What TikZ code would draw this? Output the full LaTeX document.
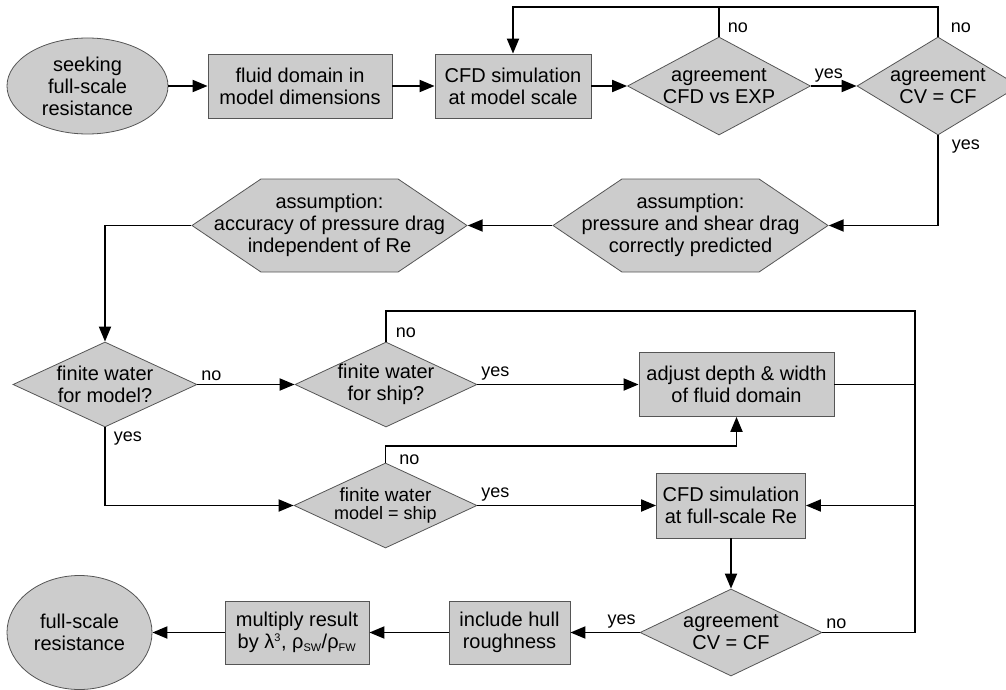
\documentclass[tikz,border=0pt]{standalone}
\usepackage{fontspec}
\setmainfont{Liberation Sans}
\usetikzlibrary{shapes.geometric,shapes.symbols,arrows.meta}
\definecolor{boxfill}{HTML}{CCCCCC}
\definecolor{boxline}{HTML}{555555}
\newcommand{\smallidx}[1]{{\fontsize{11}{11}\selectfont #1}}

\begin{document}
\begin{tikzpicture}[x=1pt, y=-1pt,
  base/.style={draw=boxline, fill=boxfill, line width=0.8pt, inner sep=0pt},
  txt/.style={align=center, font=\fontsize{20}{22}\selectfont, inner sep=0pt},
  box/.style={base, rectangle, txt},
  term/.style={base, ellipse},
  dec/.style={base, diamond},
  hexa/.style={base, signal, signal to=east and west, signal pointer angle=68},
  lbl/.style={font=\fontsize{18}{20}\selectfont, inner sep=3pt},
  flow/.style={-{Triangle[length=15pt,width=12pt]}, line width=1.9pt},
  link/.style={line width=1.9pt}]
\useasboundingbox (0,0) rectangle (1006,690);

% Nodes - top row
\node[term, minimum width=161pt, minimum height=96pt, label={[txt]center:{seeking\\full-scale\\resistance}}] (seek) at (87.5,86) {};
\node[box, minimum width=184pt, minimum height=64pt] (fluid) at (300,86) {fluid domain in\\model dimensions};
\node[box, minimum width=156pt, minimum height=64pt] (cfdm) at (513,86) {CFD simulation\\at model scale};
\node[dec, minimum width=183pt, minimum height=98pt, label={[txt]center:{agreement\\CFD vs EXP}}] (agr1) at (719,86) {};
\node[dec, minimum width=162pt, minimum height=98pt, label={[txt]center:{agreement\\CV = CF}}] (agr2) at (938,86) {};

% Nodes - assumptions
\node[hexa, minimum width=275pt, minimum height=93pt, label={[txt]center:{assumption:\\pressure and shear drag\\correctly predicted}}] (ass1) at (690.5,225.5) {};
\node[hexa, minimum width=275pt, minimum height=93pt, label={[txt]center:{assumption:\\accuracy of pressure drag\\independent of Re}}] (ass2) at (329.5,225.5) {};

% Nodes - finite water
\node[dec, minimum width=184pt, minimum height=85pt, label={[txt]center:{finite water\\for model?}}] (fw1) at (105,384.5) {};
\node[dec, minimum width=182pt, minimum height=85pt, label={[txt]center:{finite water\\for ship?}}] (fw2) at (386,384.5) {};
\node[box, minimum width=195pt, minimum height=64pt] (adjust) at (736.5,384.5) {adjust depth \& width\\of fluid domain};
\node[dec, minimum width=183pt, minimum height=85pt, label={[txt, font=\fontsize{19}{18}\selectfont]center:{finite water\\{\fontsize{18}{18}\selectfont model = ship}}}] (fw3) at (385.5,505.5) {};
\node[box, minimum width=149pt, minimum height=65pt] (cfdf) at (731,505.5) {CFD simulation\\at full-scale Re};

% Nodes - bottom row
\node[dec, minimum width=182pt, minimum height=87pt, label={[txt]center:{agreement\\CV = CF}}] (agr3) at (731,632.5) {};
\node[box, minimum width=121pt, minimum height=63pt] (hull) at (509.5,632.5) {include hull\\roughness};
\node[box, minimum width=144pt, minimum height=63pt] (mult) at (297,632.5) {multiply result\\by λ\textsuperscript{\smallidx{3}}, ρ\textsubscript{\smallidx{SW}}/ρ\textsubscript{\smallidx{FW}}};
\node[term, minimum width=145pt, minimum height=114pt, label={[txt]center:{full-scale\\resistance}}] (full) at (79.5,632.5) {};

% Arrows - top row
\coordinate (loop) at (0,7);
\draw[flow] (seek) -- (fluid);
\draw[flow] (fluid) -- (cfdm);
\draw[flow] (cfdm) -- (agr1);
\draw[flow] (agr1) -- node[lbl, above right, pos=0]{yes} (agr2);
\draw[link] (agr1.north) -- node[lbl, above right, pos=0, xshift=5pt]{no} (agr1.north |- loop);
\draw[flow] (agr2.north) -- node[lbl, above right, pos=0, xshift=9pt]{no} (agr2.north |- loop) -- (cfdm.north |- loop) -- (cfdm.north);
\draw[flow] (agr2.south) -- node[lbl, below right, pos=0, xshift=10pt]{yes} (agr2.south |- ass1.east) -- (ass1.east);
\draw[flow] (ass1.west) -- (ass2.east);
\draw[flow] (ass2.west) -| (fw1.north);

% Arrows - finite water
\draw[flow] (fw1.east) -- node[lbl, above right, pos=0]{no} (fw2.west);
\draw[flow] (fw2.east) -- node[lbl, above right, pos=0]{yes} (adjust.west);
\draw[flow] (fw1.south) -- node[lbl, below right, pos=0, xshift=5pt]{yes} (fw1.south |- fw3.west) -- (fw3.west);
\draw[flow] (fw3.east) -- node[lbl, above right, pos=0]{yes} (cfdf.west);
\draw[flow] (fw3.north) -- node[lbl, above right, pos=0, xshift=10pt, yshift=-6pt]{no} ++(0,-17) -| (adjust.south);

% Arrows - right bus
\coordinate (bus) at (915,311);
\draw[link] (fw2.north) -- node[lbl, above right, pos=0, xshift=6pt]{no} (fw2.north |- bus) -- (bus) -- (bus |- agr3.east);
\draw[link] (adjust.east) -- (adjust.east -| bus);
\draw[link] (agr3.east) -- node[lbl, above right, pos=0]{no} (agr3.east -| bus);
\draw[flow] (cfdf.east -| bus) -- (cfdf.east);

% Arrows - bottom row
\draw[flow] (cfdf.south) -- (agr3.north);
\draw[flow] (agr3.west) -- node[lbl, above left, pos=0]{yes} (hull.east);
\draw[flow] (hull.west) -- (mult.east);
\draw[flow] (mult.west) -- (full.east);
\end{tikzpicture}
\end{document}
